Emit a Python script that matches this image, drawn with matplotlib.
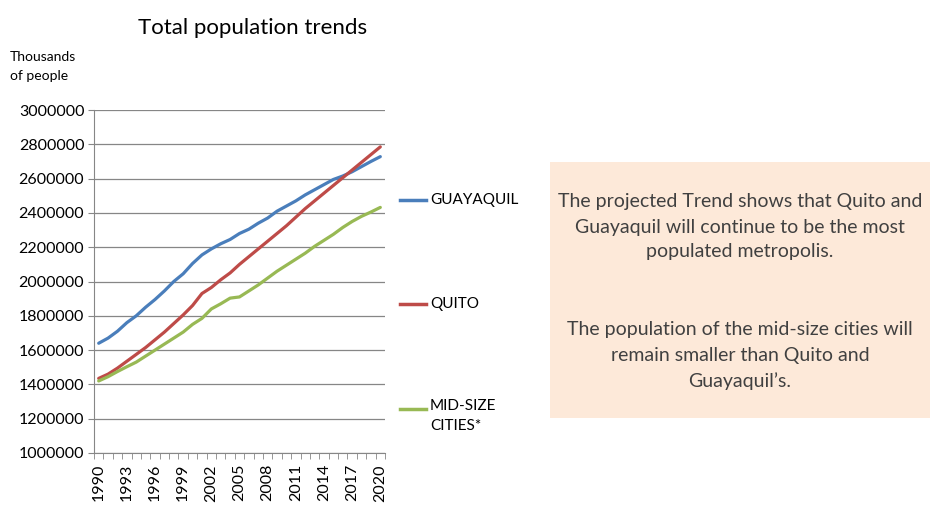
import numpy as np
import matplotlib.pyplot as plt
from matplotlib.patches import Rectangle

plt.rcParams['font.family'] = ['Lato', 'DejaVu Sans']

# Data
years = list(range(1990, 2021))
guayaquil = [1640000, 1670000, 1710000, 1760000, 1800000, 1850000, 1895000, 1945000,
             2000000, 2045000, 2105000, 2155000, 2190000, 2220000, 2245000, 2280000,
             2305000, 2340000, 2370000, 2410000, 2440000, 2470000, 2505000, 2535000,
             2565000, 2595000, 2615000, 2640000, 2670000, 2700000, 2728000]
quito = [1435000, 1460000, 1495000, 1535000, 1575000, 1615000, 1660000, 1705000,
         1755000, 1805000, 1860000, 1930000, 1965000, 2010000, 2050000, 2100000,
         2145000, 2190000, 2235000, 2280000, 2325000, 2375000, 2425000, 2470000,
         2515000, 2560000, 2605000, 2650000, 2695000, 2740000, 2785000]
midsize = [1420000, 1445000, 1475000, 1503000, 1530000, 1565000, 1600000, 1635000,
           1670000, 1705000, 1750000, 1785000, 1840000, 1870000, 1903000, 1910000,
           1945000, 1980000, 2020000, 2060000, 2095000, 2130000, 2165000, 2205000,
           2240000, 2275000, 2315000, 2350000, 2380000, 2405000, 2432000]
y_ticks = [1000000, 1200000, 1400000, 1600000, 1800000, 2000000,
           2200000, 2400000, 2600000, 2800000, 3000000]
series_names = ['GUAYAQUIL', 'QUITO', 'MID-SIZE\nCITIES*']
series_colors = ['#4A7EBB', '#BE4B48', '#98B954']

fig = plt.figure(figsize=(9.4, 5.15), dpi=100)
ax = fig.add_axes([94 / 940, 1 - 453 / 515, 291 / 940, 343 / 515])

idx = np.arange(len(years))
for vals, col in zip([guayaquil, quito, midsize], series_colors):
    ax.plot(idx, vals, color=col, lw=2.3, solid_capstyle='round')

ax.set_xlim(-0.5, len(years) - 0.5)
ax.set_ylim(y_ticks[0], y_ticks[-1])
ax.set_yticks(y_ticks)
ax.set_yticklabels([str(v) for v in y_ticks])
ax.yaxis.grid(True, color='#868686', lw=0.9)
ax.set_axisbelow(True)
ax.tick_params(axis='y', labelsize=11.5, length=4, color='#868686', pad=3)

ax.set_xticks(idx[::3])
ax.set_xticklabels([str(y) for y in years[::3]], rotation=90, fontsize=11.5)
ax.set_xticks(np.arange(-0.5, len(years)), minor=True)
ax.tick_params(axis='x', which='major', length=0, pad=8)
ax.tick_params(axis='x', which='minor', length=4, color='#868686')

for s in ['top', 'right']:
    ax.spines[s].set_visible(False)
for s in ['left', 'bottom']:
    ax.spines[s].set_color('#868686')

# Legend drawn by hand, next to the plot
leg_y = [200, 304, 409]
for name, col, yy in zip(series_names, series_colors, leg_y):
    fy = 1 - yy / 515
    fig.add_artist(plt.Line2D([400 / 940, 426 / 940], [fy, fy], color=col, lw=2.5))
    if '\n' in name:
        fig.text(430 / 940, fy + 10 / 515, name, fontsize=11, va='top', ha='left',
                 linespacing=1.5)
    else:
        fig.text(430 / 940, fy, name, fontsize=11, va='center', ha='left')

fig.text(253 / 940, 1 - 28 / 515, 'Total population trends', fontsize=16,
         ha='center', va='center')
fig.text(10 / 940, 1 - 57 / 515, 'Thousands', fontsize=10, ha='left', va='center')
fig.text(10 / 940, 1 - 76 / 515, 'of people', fontsize=10, ha='left', va='center')

# Annotation box
fig.add_artist(Rectangle((550 / 940, 1 - 418 / 515), 380 / 940, 256 / 515,
                         transform=fig.transFigure, facecolor='#FDE9D9',
                         edgecolor='none'))
box_lines = [
    (201, 'The projected Trend shows that Quito and'),
    (227, 'Guayaquil will continue to be the most'),
    (252, 'populated metropolis.'),
    (329, 'The population of the mid-size cities will'),
    (355, 'remain smaller than Quito and'),
    (381, 'Guayaquil\u2019s.'),
]
for yy, txt in box_lines:
    fig.text(740 / 940, 1 - yy / 515, txt, fontsize=14, color='#404040',
             ha='center', va='center')

fig.savefig('out.png', dpi=100)
